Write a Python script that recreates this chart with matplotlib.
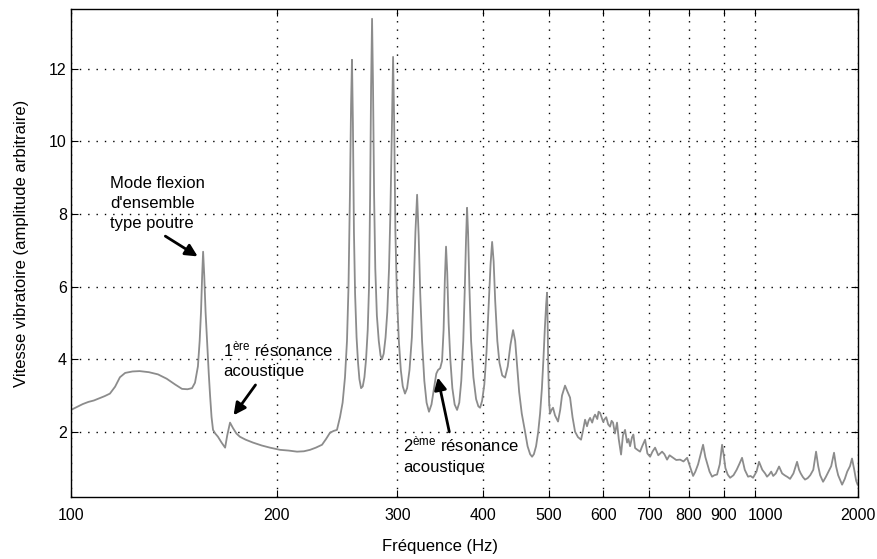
import numpy as np
import matplotlib
matplotlib.use("Agg")
import matplotlib.pyplot as plt
import matplotlib.transforms as mtransforms
from matplotlib.ticker import FixedLocator, FixedFormatter, NullLocator

plt.rcParams['font.family'] = ['Liberation Sans', 'DejaVu Sans']
plt.rcParams['mathtext.fontset'] = 'custom'
plt.rcParams['mathtext.rm'] = 'Liberation Sans'
plt.rcParams['mathtext.it'] = 'Liberation Sans'

# ---- data ----
freq_hz = [
    # low band and beam mode
    100.0, 102.0, 104.0, 106.0, 108.0, 110.0, 112.0, 114.0, 116.0, 117.9,
    120.0, 123.0, 126.0, 130.0, 134.0, 138.0, 142.0, 145.3, 148.0, 150.3,
    151.8, 153.3, 154.2, 154.9, 155.5, 156.0, 156.6, 157.3, 158.1, 159.0,
    159.7, 160.5, 161.3, 162.5, 164.0, 166.0, 168.0, 169.2, 170.8, 172.5,
    174.5, 176.6, 180.0, 184.5, 190.0, 195.4, 202.1, 208.0, 214.0, 219.0,
    223.6, 228.0, 232.8, 236.0, 239.1, 242.0, 244.8, 247.3, 249.5, 251.5,
    # main resonances
    253.2, 254.5, 255.7, 256.7, 257.5, 258.3, 259.2, 260.2, 261.5, 262.8,
    264.0, 265.5, 267.0, 268.5, 270.0, 271.5, 272.7, 273.7, 274.6, 275.5,
    276.4, 277.4, 278.5, 280.0, 281.8, 283.5, 284.9, 286.5, 288.3, 290.0,
    291.7, 293.0, 294.3, 295.7, 296.8, 298.0, 299.5, 301.5, 303.5, 305.5,
    307.8, 310.0, 312.5, 315.0, 317.0, 318.8, 320.6, 322.3, 324.0, 326.0,
    328.5, 331.0, 333.7, 336.5, 339.4, 342.0, 344.0, 346.5, 348.7, 350.5,
    352.0, 353.4, 354.8, 356.5, 358.5, 361.0, 363.8, 366.8, 369.5, 372.0,
    374.5, 376.5, 378.0, 379.3, 380.6, 382.3, 384.5, 387.5, 391.0, 394.0,
    396.3, 399.0, 402.0, 405.0, 408.0, 410.5, 412.7, 414.8, 417.0, 420.0,
    423.0, 427.0, 431.1, 435.0, 439.0, 442.9, 446.0, 449.0, 452.0, 456.0,
    461.1, 465.0, 469.0, 472.1, 475.0, 478.5, 482.0, 485.0, 488.0, 490.5,
    493.0, 495.0, 496.5, 497.5, 498.5, 500.0, 501.5, 504.0, 506.6, 510.0,
    # 500 Hz - 1 kHz
    515.2, 519.0, 522.2, 527.5, 532.0, 536.5, 541.0, 545.6, 551.0, 556.7,
    560.0, 564.3, 568.0, 571.0, 573.9, 578.0, 581.0, 583.6, 588.0, 590.5,
    593.5, 596.5, 599.5, 603.0, 606.0, 610.0, 613.8, 617.0, 620.0, 624.0,
    628.4, 632.0, 637.0, 641.0, 645.6, 650.0, 653.0, 656.6, 661.0, 664.0,
    667.8, 673.0, 679.1, 684.0, 690.7, 696.0, 702.4, 708.0, 714.3, 722.0,
    731.3, 737.0, 743.7, 750.0, 758.9, 767.0, 777.0, 786.0, 795.6, 803.0,
    811.8, 818.0, 825.5, 832.0, 839.5, 846.0, 852.0, 858.0, 865.3, 872.0,
    880.0, 888.0, 895.0, 900.0, 905.0, 912.0, 919.5, 930.0, 940.0, 948.0,
    957.2, 966.0, 976.8, 985.0, 993.3,
    # 1 - 2 kHz
    1010.0, 1027.3, 1050.0, 1070.0, 1084.0, 1100.0, 1115.0, 1130.0, 1150.0, 1175.5,
    1200.0, 1220.0, 1245.0, 1266.0, 1295.0, 1327.0, 1345.0, 1360.0, 1380.0, 1400.0,
    1425.0, 1450.0, 1480.0, 1508.0, 1530.0, 1550.0, 1581.0, 1610.0, 1640.0, 1670.0,
    1702.0, 1725.0, 1750.0, 1797.0, 1830.0, 1860.0, 1895.0, 1921.0, 1950.0, 1975.0,
    1995.0,
]
amplitude = [
    2.60, 2.68, 2.76, 2.82, 2.86, 2.92, 2.98, 3.05, 3.24, 3.50,
    3.62, 3.66, 3.67, 3.64, 3.58, 3.46, 3.30, 3.18, 3.17, 3.20,
    3.35, 3.80, 4.50, 5.30, 6.30, 6.96, 6.30, 5.30, 4.50, 3.60,
    3.00, 2.40, 2.05, 1.95, 1.86, 1.70, 1.56, 1.90, 2.25, 2.10,
    1.95, 1.86, 1.78, 1.70, 1.62, 1.56, 1.50, 1.48, 1.45, 1.46,
    1.50, 1.56, 1.64, 1.80, 1.97, 2.02, 2.05, 2.40, 2.80, 3.50,
    4.50, 6.00, 8.50, 11.00, 12.25, 10.50, 7.50, 5.80, 4.60, 3.90,
    3.45, 3.20, 3.25, 3.50, 4.00, 4.80, 6.00, 8.50, 11.50, 13.38,
    11.50, 8.50, 6.50, 5.20, 4.50, 4.10, 4.00, 4.15, 4.60, 5.30,
    6.50, 8.00, 10.00, 12.33, 10.50, 7.50, 5.80, 4.50, 3.70, 3.25,
    3.05, 3.20, 3.70, 4.60, 6.00, 7.50, 8.53, 7.40, 5.80, 4.50,
    3.40, 2.80, 2.55, 2.75, 3.20, 3.60, 3.70, 3.75, 3.95, 4.80,
    6.20, 7.10, 6.40, 5.00, 4.00, 3.20, 2.75, 2.60, 2.80, 3.40,
    4.50, 6.00, 7.30, 8.17, 7.50, 6.00, 4.50, 3.50, 2.90, 2.70,
    2.66, 2.85, 3.30, 4.20, 5.50, 6.60, 7.23, 6.70, 5.60, 4.50,
    3.90, 3.55, 3.49, 3.80, 4.40, 4.80, 4.50, 3.80, 3.10, 2.50,
    2.00, 1.60, 1.38, 1.31, 1.38, 1.60, 2.00, 2.50, 3.20, 4.00,
    4.90, 5.50, 5.83, 5.00, 3.80, 2.80, 2.50, 2.60, 2.66, 2.45,
    2.28, 2.60, 3.00, 3.27, 3.10, 2.94, 2.40, 2.00, 1.85, 1.78,
    2.00, 2.33, 2.15, 2.30, 2.38, 2.25, 2.40, 2.47, 2.35, 2.55,
    2.52, 2.40, 2.28, 2.35, 2.40, 2.20, 2.14, 2.30, 2.25, 1.95,
    2.25, 1.80, 1.37, 1.90, 2.05, 1.70, 1.80, 1.60, 1.85, 1.92,
    1.55, 1.50, 1.45, 1.60, 1.78, 1.40, 1.31, 1.45, 1.56, 1.35,
    1.45, 1.38, 1.23, 1.35, 1.28, 1.22, 1.23, 1.18, 1.28, 1.05,
    0.78, 0.90, 1.10, 1.35, 1.64, 1.30, 1.10, 0.90, 0.76, 0.80,
    0.82, 1.10, 1.64, 1.35, 1.00, 0.82, 0.73, 0.80, 0.95, 1.10,
    1.28, 0.95, 0.76, 0.78, 0.73,
    0.90, 1.17, 0.95, 0.85, 0.76, 0.82, 0.90, 0.78, 0.85, 1.04,
    0.85, 0.80, 0.75, 0.70, 0.85, 1.17, 0.95, 0.85, 0.75, 0.68,
    0.72, 0.80, 0.95, 1.45, 1.05, 0.80, 0.62, 0.75, 0.90, 1.05,
    1.42, 1.05, 0.80, 0.54, 0.70, 0.90, 1.05, 1.26, 0.95, 0.65,
    0.54,
]
x_ticks = [100, 200, 300, 400, 500, 600, 700, 800, 900, 1000, 2000]
x_tick_labels = ['100', '200', '300', '400', '500', '600', '700', '800', '900', '1000', '2000']
y_ticks = [2, 4, 6, 8, 10, 12]

# ---- axis scale: log, with the 1000-2000 decade compressed as in the original ----
def fwd(x):
    lx = np.log10(np.maximum(np.asarray(x, dtype=float), 1e-9))
    return np.where(lx <= 3, lx, 3 + 0.5 * (lx - 3))

def inv(y):
    y = np.asarray(y, dtype=float)
    return np.where(y <= 3, 10 ** y, 10 ** (3 + 2 * (y - 3)))

W, H = 878, 559
fig = plt.figure(figsize=(W / 100, H / 100), dpi=100)
ax = fig.add_axes([71 / W, 1 - 497 / H, (858 - 71) / W, (497 - 9) / H])
ax.set_xscale('function', functions=(fwd, inv))

ax.plot(freq_hz, amplitude, color='#8c8c8c', lw=1.3)

ax.set_xlim(100, 2000)
ax.set_ylim(0.2, 13.65)
ax.xaxis.set_major_locator(FixedLocator(x_ticks))
ax.xaxis.set_major_formatter(FixedFormatter(x_tick_labels))
ax.xaxis.set_minor_locator(NullLocator())
ax.set_yticks(y_ticks)
ax.yaxis.set_minor_locator(NullLocator())

ax.tick_params(direction='in', top=True, right=True, length=5, width=0.8,
               labelsize=11.5, colors='black')
ax.tick_params(axis='x', pad=8)
ax.tick_params(axis='y', pad=3)
ax.grid(True, color='black', linestyle=(0, (1, 5)), linewidth=1.0)
for s in ax.spines.values():
    s.set_linewidth(1.0)
    s.set_color('black')

# nudge the crowded "1000" label to the right, as in the original
fig.canvas.draw()
shift = mtransforms.ScaledTranslation(10 / 100, 0, fig.dpi_scale_trans)
for lbl in ax.get_xticklabels():
    if lbl.get_text() == '1000':
        lbl.set_transform(lbl.get_transform() + shift)

ax.set_xlabel('Fréquence (Hz)', fontsize=12)
ax.xaxis.set_label_coords(0.469, -0.086)
ax.set_ylabel('Vitesse vibratoire (amplitude arbitraire)', fontsize=12)
ax.yaxis.set_label_coords(-0.054, 0.52)

# ---- annotations ----
fs = 12
ax.text(114, 8.72, 'Mode flexion', fontsize=fs, va='baseline')
ax.text(114, 8.17, "d'ensemble", fontsize=fs, va='baseline')
ax.text(114, 7.62, 'type poutre', fontsize=fs, va='baseline')
ax.annotate('', xy=(154.4, 6.79), xytext=(136.3, 7.43),
            arrowprops=dict(arrowstyle='-|>', color='black', lw=2, mutation_scale=18))

ax.text(166.9, 4.07, r'1$^{\mathrm{ère}}$ résonance', fontsize=fs, va='baseline')
ax.text(166.9, 3.54, 'acoustique', fontsize=fs, va='baseline')
ax.annotate('', xy=(171.9, 2.39), xytext=(187.1, 3.35),
            arrowprops=dict(arrowstyle='-|>', color='black', lw=2, mutation_scale=18))

ax.text(305.7, 1.45, r'2$^{\mathrm{ème}}$ résonance', fontsize=fs, va='baseline')
ax.text(305.7, 0.90, 'acoustique', fontsize=fs, va='baseline')
ax.annotate('', xy=(343.0, 3.57), xytext=(358.0, 1.92),
            arrowprops=dict(arrowstyle='-|>', color='black', lw=2, mutation_scale=18))

fig.savefig('out.png', dpi=100)
